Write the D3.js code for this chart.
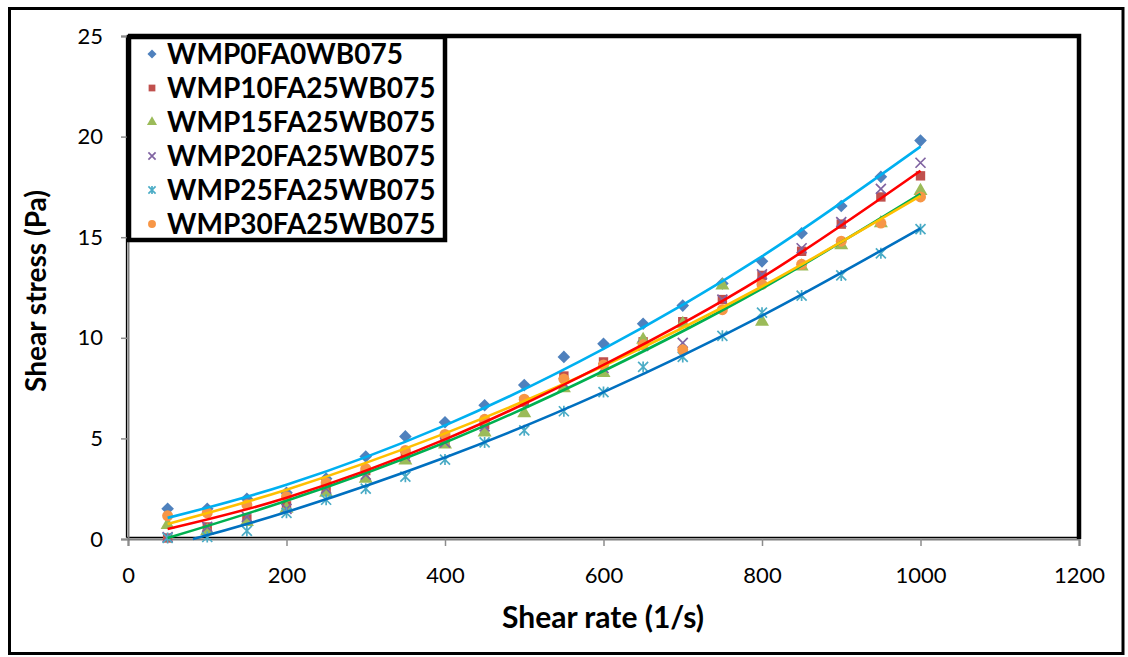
<!DOCTYPE html>
<html><head><meta charset="utf-8">
<script src="https://cdn.jsdelivr.net/npm/d3@7"></script>
<style>body{margin:0;background:#fff}svg{display:block}</style>
</head><body>
<svg id="c" width="1128" height="657"></svg>
<script>
const shearRate = [50,100,150,200,250,300,350,400,450,500,550,600,650,700,750,800,850,900,950,1000];
const seriesNames = ["WMP0FA0WB075","WMP10FA25WB075","WMP15FA25WB075","WMP20FA25WB075","WMP25FA25WB075","WMP30FA25WB075"];
const wmp0  = [1.5,1.5,2.0,2.3,3.0,4.1,5.1,5.8,6.65,7.65,9.05,9.7,10.7,11.6,12.7,13.8,15.2,16.55,18.0,19.8];
const wmp10 = [0.05,0.6,1.0,1.65,2.5,3.4,4.2,4.8,5.7,6.8,8.1,8.8,9.8,10.8,11.9,13.1,14.3,15.65,17.0,18.05];
const wmp15 = [0.7,0.4,0.85,1.5,2.3,3.0,3.9,4.7,5.3,6.25,7.5,8.25,9.9,10.7,12.6,10.8,13.55,14.6,15.7,17.3];
const wmp20 = [0.1,0.6,1.1,1.5,2.5,3.2,4.1,4.8,5.6,6.8,7.75,8.5,9.6,9.75,11.9,13.15,14.45,15.75,17.4,18.7];
const wmp25 = [0.05,0.1,0.4,1.3,1.95,2.5,3.1,3.95,4.8,5.4,6.35,7.3,8.55,9.05,10.1,11.25,12.1,13.1,14.2,15.4];
const wmp30 = [1.15,1.3,1.7,2.1,2.8,3.5,4.4,5.2,5.95,6.95,7.95,8.65,9.65,9.4,11.4,12.65,13.65,14.8,15.7,17.0];
// trendlines
const trendX     = [50,200,400,600,800,1000];
const trendBlueX = [82,200,400,600,800,1000];
const trendWmp0  = [1.05,2.7,5.65,9.45,14.05,19.5];
const trendWmp10 = [0.5,2.05,4.95,8.65,13.0,18.3];
const trendWmp15 = [0.05,1.9,4.8,8.35,12.45,17.15];
const trendWmp25 = [0,1.34,4.05,7.3,11.1,15.44];
const trendWmp30 = [0.75,2.45,5.25,8.6,12.55,17.05];
const xTicks = [0,200,400,600,800,1000,1200];
const yTicks = [0,5,10,15,20,25];
const markerColors = ["#4F81BD","#C0504D","#9BBB59","#8064A2","#4BACC6","#F79646"];
const markerShapes = ["diamond","square","triangle","x","star","circle"];

const values = [wmp0,wmp10,wmp15,wmp20,wmp25,wmp30];
const trends = [
  {x:trendX, y:trendWmp15, color:"#00B050"},
  {x:trendX, y:trendWmp30, color:"#FFC000"},
  {x:trendX, y:trendWmp10, color:"#FF0000"},
  {x:trendX, y:trendWmp0,  color:"#00B0F0"},
  {x:trendBlueX, y:trendWmp25, color:"#0070C0"}
];
const svg = d3.select("#c");
const font = "Lato, 'Open Sans', sans-serif";
const L=128,T=36,R=1079,B=539;
const x = d3.scaleLinear().domain([0,1200]).range([L,R]);
const y = d3.scaleLinear().domain([0,25]).range([B,T]);

// outer frame
svg.append("rect").attr("x",9.5).attr("y",8.5).attr("width",1113.5).attr("height",645).attr("fill","#fff").attr("stroke","#000").attr("stroke-width",3);

// thin plot-area border (left/bottom)
svg.append("line").attr("x1",L-1.5).attr("x2",L-1.5).attr("y1",T).attr("y2",B-1.5).attr("stroke","#000").attr("stroke-width",1.3);
svg.append("line").attr("x1",L-1.5).attr("x2",R).attr("y1",B-1.5).attr("y2",B-1.5).attr("stroke","#000").attr("stroke-width",1.3);

// axes
const xa = svg.append("g").attr("transform",`translate(0,${B})`).call(d3.axisBottom(x).tickValues(xTicks).tickFormat(d3.format("d")).tickSize(7).tickPadding(21));
const ya = svg.append("g").attr("transform",`translate(${L},0)`).call(d3.axisLeft(y).tickValues(yTicks).tickFormat(d3.format("d")).tickSize(7).tickPadding(18));
[xa,ya].forEach(a=>{a.selectAll("path").attr("stroke","#7f7f7f").attr("stroke-width",2);
  a.selectAll("line").attr("stroke","#8c8c8c").attr("stroke-width",1.5);
  a.selectAll("text").attr("font-family",font).attr("font-size",22).attr("fill","#000");});

// thick top/right border
svg.append("path").attr("d",`M${L},${T}H${R}V${B}`).attr("fill","none").attr("stroke","#000").attr("stroke-width",4.5);

// markers
const sym = {
  square: d3.symbol().type(d3.symbolSquare).size(88),
  triangle: d3.symbol().type(d3.symbolTriangle).size(85),
  circle: d3.symbol().type(d3.symbolCircle).size(95)
};
function drawMarker(g, shape, color, cx, cy, k){
  k = k||1;
  const s=5*k;
  if (shape==="x"){
    g.append("path").attr("d",`M${cx-s},${cy-s}L${cx+s},${cy+s}M${cx-s},${cy+s}L${cx+s},${cy-s}`).attr("stroke",color).attr("stroke-width",1.7).attr("fill","none");
  } else if (shape==="star"){
    g.append("path").attr("d",`M${cx-s},${cy-s}L${cx+s},${cy+s}M${cx-s},${cy+s}L${cx+s},${cy-s}M${cx},${cy-s-0.5}L${cx},${cy+s+0.5}`).attr("stroke",color).attr("stroke-width",1.7).attr("fill","none");
  } else if (shape==="diamond"){
    const d=6.3*k;
    g.append("path").attr("d",`M${cx},${cy-d}L${cx+d},${cy}L${cx},${cy+d}L${cx-d},${cy}Z`).attr("fill",color);
  } else {
    g.append("path").attr("d",sym[shape]()).attr("transform",`translate(${cx},${cy}) scale(${k})`).attr("fill",color);
  }
}
const mg = svg.append("g");
values.forEach((vals,i)=>{
  vals.forEach((v,j)=>drawMarker(mg, markerShapes[i], markerColors[i], x(shearRate[j]), y(v)));
});

// trendlines
const line = d3.line().x(d=>x(d[0])).y(d=>y(d[1])).curve(d3.curveNatural);
const tg = svg.append("g");
trends.forEach(t=>{
  const pts = t.x.map((xv,k)=>[xv,t.y[k]]);
  tg.append("path").attr("d",line(pts)).attr("fill","none").attr("stroke",t.color).attr("stroke-width",2.6);
});

// legend
svg.append("rect").attr("x",129).attr("y",37).attr("width",316).attr("height",203).attr("fill","#fff").attr("stroke","#000").attr("stroke-width",4.5);
const lg = svg.append("g");
seriesNames.forEach((nm,i)=>{
  const cy = 54 + i*34;
  drawMarker(lg, markerShapes[i], markerColors[i], 152, cy, 0.72);
  lg.append("text").attr("x",167).attr("y",cy).attr("dy","0.36em").attr("font-family",font).attr("font-weight","bold").attr("font-size",28).attr("fill","#000").text(nm);
});

// axis titles
svg.append("text").attr("x",603).attr("y",628).attr("text-anchor","middle").attr("font-family",font).attr("font-weight","bold").attr("font-size",30).text("Shear rate (1/s)");
svg.append("text").attr("transform","translate(46,291) rotate(-90)").attr("text-anchor","middle").attr("font-family",font).attr("font-weight","bold").attr("font-size",28).text("Shear stress (Pa)");
</script>
</body></html>
